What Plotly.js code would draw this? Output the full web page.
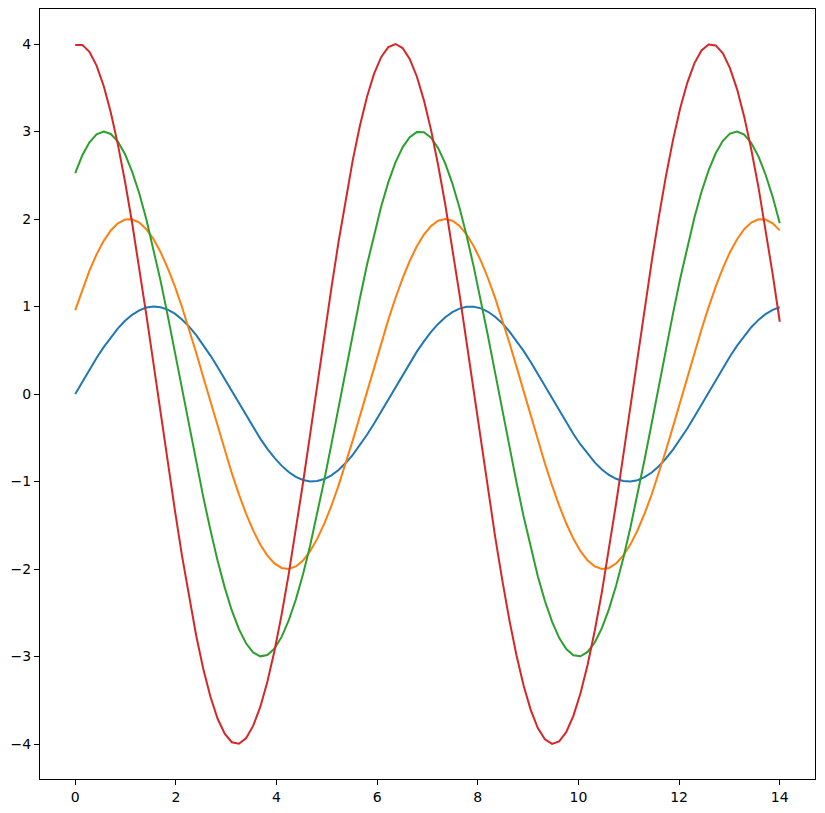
<!DOCTYPE html>
<html>
<head>
<meta charset="utf-8">
<script src="https://cdn.plot.ly/plotly-3.0.1.min.js"></script>
<style>html,body{margin:0;padding:0;background:#fff;}#chart{width:825px;height:813px;}</style>
</head>
<body>
<div id="chart"></div>
<script>
const xValues = [0, 0.141, 0.283, 0.424, 0.566, 0.707, 0.848, 0.990, 1.131, 1.273, 1.414, 1.556, 1.697, 1.838, 1.980, 2.121, 2.263, 2.404, 2.545, 2.687, 2.828, 2.970, 3.111, 3.253, 3.394, 3.535, 3.677, 3.818, 3.960, 4.101, 4.242, 4.384, 4.525, 4.667, 4.808, 4.949, 5.091, 5.232, 5.374, 5.515, 5.657, 5.798, 5.939, 6.081, 6.222, 6.364, 6.505, 6.646, 6.788, 6.929, 7.071, 7.212, 7.354, 7.495, 7.636, 7.778, 7.919, 8.061, 8.202, 8.343, 8.485, 8.626, 8.768, 8.909, 9.051, 9.192, 9.333, 9.475, 9.616, 9.758, 9.899, 10.040, 10.182, 10.323, 10.465, 10.606, 10.747, 10.889, 11.030, 11.172, 11.313, 11.455, 11.596, 11.737, 11.879, 12.020, 12.162, 12.303, 12.444, 12.586, 12.727, 12.869, 13.010, 13.152, 13.293, 13.434, 13.576, 13.717, 13.859, 14.000];

const seriesBlue = [0, 0.141, 0.279, 0.412, 0.536, 0.650, 0.750, 0.836, 0.905, 0.956, 0.988, 1.000, 0.992, 0.964, 0.918, 0.852, 0.770, 0.672, 0.561, 0.439, 0.308, 0.171, 0.030, -0.111, -0.250, -0.384, -0.510, -0.626, -0.730, -0.819, -0.892, -0.947, -0.983, -0.999, -0.995, -0.972, -0.929, -0.868, -0.789, -0.695, -0.586, -0.466, -0.337, -0.201, -0.061, 0.080, 0.220, 0.355, 0.484, 0.602, 0.709, 0.801, 0.877, 0.936, 0.976, 0.997, 0.998, 0.979, 0.940, 0.883, 0.808, 0.716, 0.611, 0.493, 0.366, 0.231, 0.091, -0.050, -0.190, -0.327, -0.457, -0.577, -0.687, -0.782, -0.862, -0.925, -0.969, -0.994, -0.999, -0.985, -0.950, -0.897, -0.825, -0.737, -0.635, -0.519, -0.394, -0.260, -0.122, 0.019, 0.160, 0.298, 0.429, 0.552, 0.664, 0.763, 0.847, 0.913, 0.961, 0.991];

const seriesOrange = [0.959, 1.197, 1.411, 1.596, 1.750, 1.869, 1.951, 1.993, 1.996, 1.959, 1.883, 1.770, 1.621, 1.439, 1.229, 0.994, 0.740, 0.471, 0.192, -0.091, -0.371, -0.645, -0.905, -1.147, -1.367, -1.559, -1.720, -1.847, -1.936, -1.988, -1.999, -1.971, -1.903, -1.797, -1.656, -1.481, -1.277, -1.047, -0.796, -0.530, -0.253, 0.030, 0.311, 0.586, 0.850, 1.097, 1.322, 1.520, 1.688, 1.822, 1.920, 1.980, 2.000, 1.980, 1.921, 1.823, 1.689, 1.521, 1.323, 1.098, 0.852, 0.588, 0.313, 0.031, -0.251, -0.528, -0.795, -1.045, -1.275, -1.480, -1.655, -1.796, -1.902, -1.970, -1.999, -1.988, -1.937, -1.847, -1.721, -1.560, -1.368, -1.149, -0.907, -0.646, -0.373, -0.092, 0.190, 0.469, 0.738, 0.993, 1.228, 1.438, 1.620, 1.769, 1.883, 1.959, 1.996, 1.994, 1.951, 1.870];

const seriesGreen = [2.524, 2.728, 2.876, 2.968, 3.000, 2.972, 2.885, 2.740, 2.541, 2.291, 1.995, 1.659, 1.290, 0.896, 0.483, 0.061, -0.362, -0.778, -1.179, -1.556, -1.902, -2.210, -2.474, -2.688, -2.849, -2.953, -2.998, -2.983, -2.909, -2.776, -2.588, -2.349, -2.062, -1.735, -1.372, -0.983, -0.573, -0.153, 0.271, 0.690, 1.094, 1.477, 1.830, 2.147, 2.421, 2.647, 2.819, 2.936, 2.993, 2.992, 2.930, 2.810, 2.633, 2.405, 2.128, 1.808, 1.453, 1.069, 0.663, 0.244, -0.180, -0.600, -1.009, -1.397, -1.757, -2.082, -2.366, -2.602, -2.787, -2.915, -2.986, -2.997, -2.948, -2.840, -2.676, -2.458, -2.191, -1.881, -1.532, -1.153, -0.752, -0.335, 0.089, 0.510, 0.922, 1.315, 1.682, 2.015, 2.309, 2.556, 2.751, 2.893, 2.976, 3.000, 2.964, 2.869, 2.716, 2.509, 2.253, 1.951];

const seriesRed = [3.990, 3.990, 3.910, 3.753, 3.520, 3.217, 2.850, 2.426, 1.954, 1.442, 0.902, 0.344, -0.221, -0.782, -1.327, -1.846, -2.328, -2.763, -3.143, -3.460, -3.709, -3.883, -3.980, -3.997, -3.934, -3.793, -3.576, -3.288, -2.934, -2.522, -2.059, -1.555, -1.020, -0.465, 0.100, 0.662, 1.212, 1.737, 2.227, 2.673, 3.066, 3.398, 3.661, 3.852, 3.965, 4.000, 3.954, 3.830, 3.629, 3.356, 3.016, 2.615, 2.163, 1.667, 1.138, 0.586, 0.022, -0.542, -1.095, -1.626, -2.125, -2.581, -2.986, -3.332, -3.610, -3.817, -3.947, -3.999, -3.971, -3.863, -3.679, -3.421, -3.095, -2.706, -2.264, -1.777, -1.254, -0.706, -0.144, 0.421, 0.977, 1.514, 2.021, 2.487, 2.904, 3.263, 3.556, 3.779, 3.926, 3.995, 3.984, 3.893, 3.725, 3.482, 3.170, 2.795, 2.364, 1.885, 1.369, 0.826];

const seriesList = [seriesBlue, seriesOrange, seriesGreen, seriesRed];
const seriesColors = ['#1f77b4', '#ff7f0e', '#2ca02c', '#d62728'];
const xTicks = [0, 2, 4, 6, 8, 10, 12, 14];
const yTicks = [-4, -3, -2, -1, 0, 1, 2, 3, 4];

const traces = seriesList.map((ys, i) => ({
  x: xValues,
  y: ys,
  type: 'scatter',
  mode: 'lines',
  line: {color: seriesColors[i], width: 2},
  hoverinfo: 'skip'
}));

const axisCommon = {
  showgrid: false,
  zeroline: false,
  showline: true,
  mirror: true,
  linecolor: '#000',
  linewidth: 1,
  ticks: 'outside',
  ticklen: 5,
  tickwidth: 1,
  tickcolor: '#000',
  tickfont: {family: 'DejaVu Sans', size: 14, color: '#000'},
  tickmode: 'array'
};

const layout = {
  width: 825,
  height: 813,
  margin: {l: 40, r: 10, t: 9, b: 34, pad: 0},
  paper_bgcolor: '#fff',
  plot_bgcolor: '#fff',
  showlegend: false,
  xaxis: Object.assign({}, axisCommon, {range: [-0.7, 14.7], tickvals: xTicks, ticktext: xTicks.map(String)}),
  yaxis: Object.assign({}, axisCommon, {range: [-4.4, 4.4], tickvals: yTicks, ticktext: yTicks.map(v => v < 0 ? '\u2212' + Math.abs(v) : String(v))})
};

Plotly.newPlot('chart', traces, layout, {displayModeBar: false, staticPlot: true});
</script>
</body>
</html>
